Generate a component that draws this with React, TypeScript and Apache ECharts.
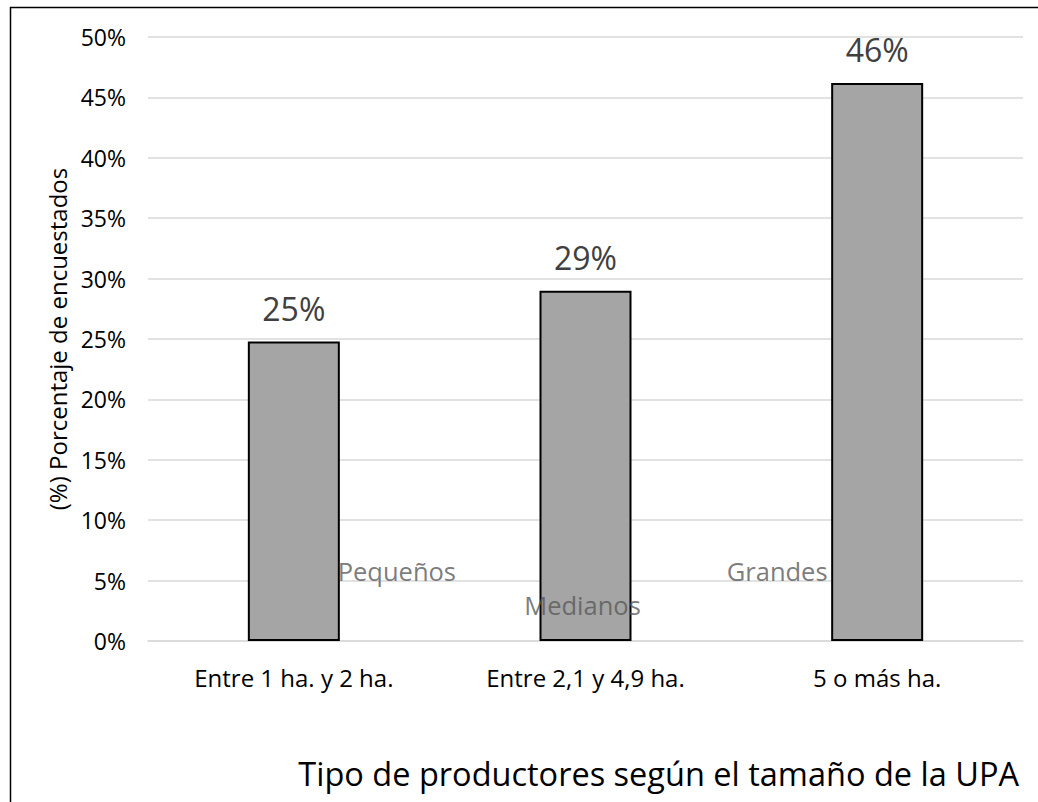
import React, { useEffect, useRef } from "react";
import * as echarts from "echarts";

// Farm size categories and share of respondents (%)
const categories = ["Entre 1 ha. y 2 ha.", "Entre 2,1 y 4,9 ha.", "5 o más ha."];
const shares = [24.8, 29.0, 46.2];

// Producer type tags placed beside the bars: [category index, y value (%), label]
const tagNames = ["Pequeños", "Medianos", "Grandes"];
const tagPositions = [
  [0, 5.8],
  [1, 3.0],
  [2, 5.8],
];
const tagOffsets = [
  [103, 0],
  [-3, 0],
  [-100, 0],
];

const yTicks = { min: 0, max: 50, interval: 5 };

const FONT = "'Open Sans', 'Noto Sans', sans-serif";

export default function App() {
  const ref = useRef<HTMLDivElement>(null);

  useEffect(() => {
    if (!ref.current) return;
    const chart = echarts.init(ref.current, undefined, { renderer: "svg" });
    chart.setOption({
      animation: false,
      backgroundColor: "#ffffff",
      textStyle: { fontFamily: FONT },
      title: {
        text: "Tipo de productores según el tamaño de la UPA",
        right: 14,
        top: 752,
        textStyle: { fontFamily: FONT, fontSize: 32.5, fontWeight: "normal", color: "#000000" },
      },
      graphic: [
        {
          type: "rect",
          shape: { x: 10.5, y: 7.5, width: 1100, height: 900 },
          style: { fill: "none", stroke: "#000000", lineWidth: 1.5 },
          silent: true,
          z: 100,
        },
      ],
      grid: { left: 148, right: 15, top: 37, bottom: 161, containLabel: false },
      xAxis: {
        type: "category",
        data: categories,
        axisLine: { show: true, lineStyle: { color: "#d9d9d9", width: 1.5 } },
        axisTick: { show: false },
        axisLabel: { color: "#000000", fontSize: 24, margin: 24, fontFamily: FONT },
      },
      yAxis: {
        type: "value",
        min: yTicks.min,
        max: yTicks.max,
        interval: yTicks.interval,
        name: "(%) Porcentaje de encuestados",
        nameLocation: "middle",
        nameGap: 78,
        nameRotate: 90,
        nameTextStyle: { color: "#000000", fontSize: 24, fontFamily: FONT },
        axisLine: { show: false },
        axisTick: { show: false },
        axisLabel: {
          color: "#000000",
          fontSize: 23,
          margin: 22,
          fontFamily: FONT,
          formatter: (v: number) => `${v}%`,
        },
        splitLine: { show: true, lineStyle: { color: "#d9d9d9", width: 1.5 } },
      },
      series: [
        {
          type: "bar",
          data: shares,
          barWidth: 92,
          itemStyle: { color: "#a5a5a5", borderColor: "#000000", borderWidth: 2 },
          label: {
            show: true,
            position: "top",
            distance: 17,
            color: "#404040",
            fontSize: 32,
            fontFamily: FONT,
            formatter: (p: any) => `${Math.round(p.value)}%`,
          },
        },
        {
          type: "scatter",
          symbolSize: 0,
          silent: true,
          z: 5,
          data: tagPositions.map((pos, i) => ({
            value: pos,
            label: {
              show: true,
              position: "inside",
              offset: tagOffsets[i],
              formatter: tagNames[i],
              color: "#595959",
              fontSize: 25.5,
              fontFamily: FONT,
            },
          })),
        },
      ],
    });
    return () => chart.dispose();
  }, []);

  return (
    <div
      ref={ref}
      style={{ position: "absolute", left: 0, top: 0, width: 1038, height: 802, background: "#ffffff" }}
    />
  );
}
